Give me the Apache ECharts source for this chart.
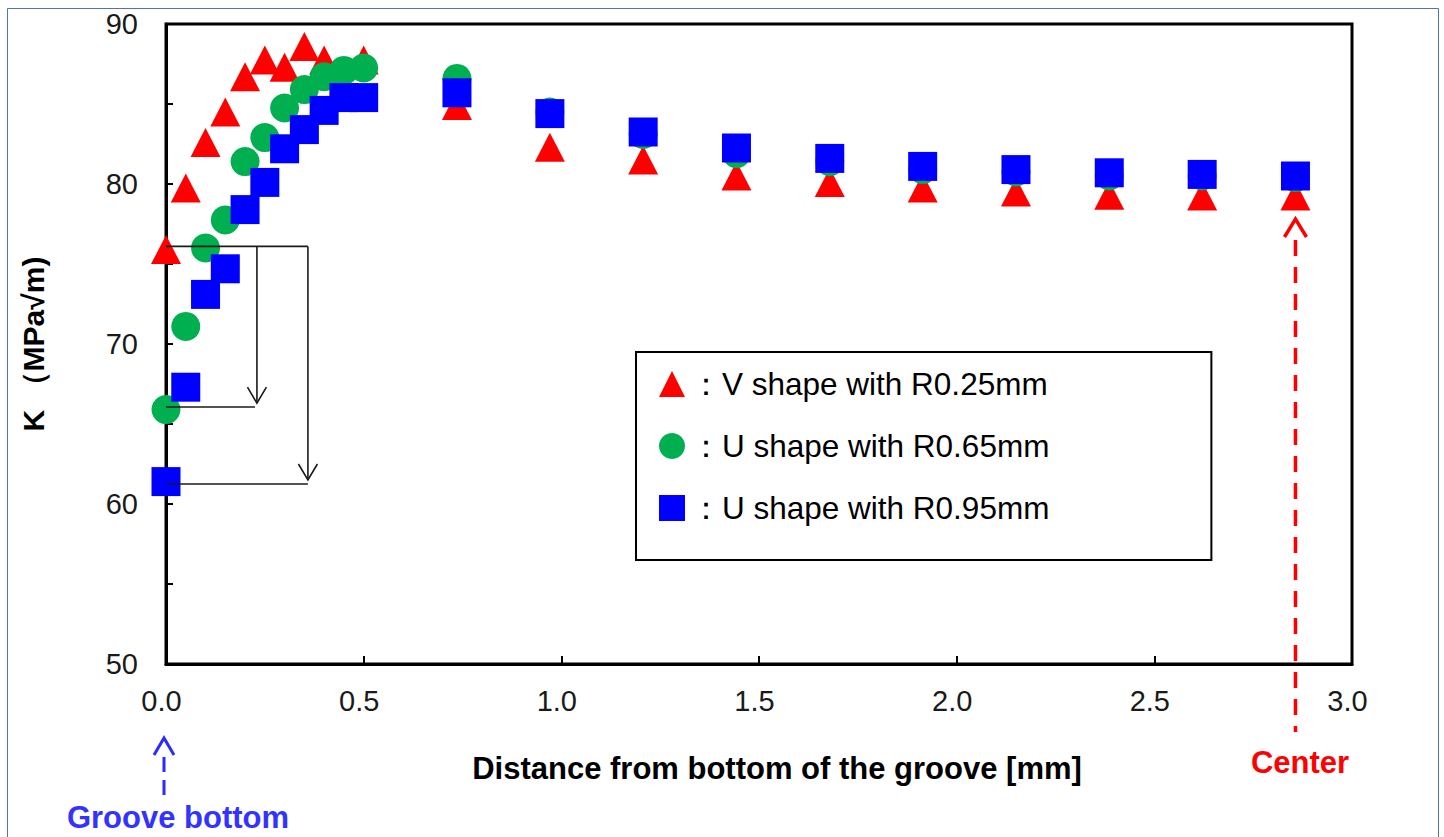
<!DOCTYPE html>
<html><head><meta charset="utf-8">
<script src="https://cdn.jsdelivr.net/npm/echarts@6/dist/echarts.min.js"></script>
<style>html,body{margin:0;padding:0;background:#fff}#c{width:1444px;height:837px}</style>
</head><body><div id="c"></div>
<script>
// ---- data ----
const seriesNames = ['：V shape with R0.25mm', '：U shape with R0.65mm', '：U shape with R0.95mm'];
const vR025X = [0, 0.05, 0.10, 0.15, 0.20, 0.25, 0.30, 0.35, 0.40, 0.50, 0.736, 0.971, 1.207, 1.443, 1.679, 1.914, 2.150, 2.386, 2.621, 2.857];
const vR025K = [75.9, 79.75, 82.6, 84.5, 86.7, 87.75, 87.3, 88.6, 87.75, 87.75, 84.9, 82.3, 81.5, 80.5, 80.1, 79.75, 79.5, 79.3, 79.25, 79.25];
const uR065X = [0, 0.05, 0.10, 0.15, 0.20, 0.25, 0.30, 0.35, 0.40, 0.45, 0.50, 0.736, 0.971, 1.207, 1.443, 1.679, 1.914, 2.150, 2.386, 2.621, 2.857];
const uR065K = [65.9, 71.1, 76.0, 77.75, 81.4, 82.9, 84.75, 85.9, 86.7, 87.1, 87.25, 86.6, 84.5, 83.1, 81.9, 81.4, 80.9, 80.75, 80.5, 80.5, 80.4];
const uR095X = [0, 0.05, 0.10, 0.15, 0.20, 0.25, 0.30, 0.35, 0.40, 0.45, 0.50, 0.736, 0.971, 1.207, 1.443, 1.679, 1.914, 2.150, 2.386, 2.621, 2.857];
const uR095K = [61.4, 67.3, 73.1, 74.7, 78.4, 80.1, 82.2, 83.4, 84.6, 85.4, 85.4, 85.7, 84.4, 83.25, 82.25, 81.6, 81.1, 80.9, 80.7, 80.6, 80.5];
const xTicks = [0, 0.5, 1.0, 1.5, 2.0, 2.5, 3.0];
const yTicks = [50, 60, 70, 80, 90];
const centerX = 2.857;
const grooveX = 0;
// annotation polylines (data coordinates)
const annoLines = [
  [[0, 76.1], [0.359, 76.1]],
  [[0.230, 76.1], [0.230, 66.3]],
  [[0.206, 67.3], [0.230, 66.3], [0.254, 67.3]],
  [[0, 66.06], [0.225, 66.06]],
  [[0.359, 76.1], [0.359, 61.5]],
  [[0.335, 62.5], [0.359, 61.5], [0.383, 62.5]],
  [[0, 61.25], [0.359, 61.25]]
];

const FONT = "Arial, 'Liberation Sans', sans-serif";
const zip = (xs, ys) => xs.map((x, i) => [x, ys[i]]);

const chart = echarts.init(document.getElementById('c'), null, {renderer: 'svg'});
chart.setOption({
  animation: false,
  backgroundColor: '#fff',
  grid: {left: 166, top: 24, right: 92, bottom: 173, show: true, borderColor: '#000', borderWidth: 3, containLabel: false, outerBoundsMode: 'none'},
  xAxis: {
    type: 'value', min: xTicks[0], max: xTicks[xTicks.length - 1], interval: 0.5,
    axisLine: {lineStyle: {color: '#000', width: 3}},
    axisTick: {inside: true, length: 8, lineStyle: {color: '#000', width: 2}},
    splitLine: {show: false},
    axisLabel: {formatter: v => v.toFixed(1), fontSize: 29, color: '#1a1a1a', fontFamily: FONT, margin: 22, padding: [0, 9, 0, 0]},
    name: 'Distance from bottom of the groove [mm]', nameLocation: 'middle', nameGap: 89,
    nameTextStyle: {fontSize: 31, fontWeight: 'bold', color: '#000', fontFamily: FONT, padding: [0, 0, 0, 36]}
  },
  yAxis: {
    type: 'value', min: yTicks[0], max: yTicks[yTicks.length - 1], interval: 5,
    axisLine: {lineStyle: {color: '#000', width: 3}},
    axisTick: {inside: true, length: 7, lineStyle: {color: '#000', width: 2}},
    splitLine: {show: false},
    axisLabel: {formatter: v => (yTicks.indexOf(v) >= 0 ? String(v) : ''), fontSize: 29, color: '#1a1a1a', fontFamily: FONT, margin: 28},
    name: 'K （MPa√m)', nameLocation: 'middle', nameGap: 118, nameRotate: 90,
    nameTextStyle: {fontSize: 30, fontWeight: 'bold', color: '#000', fontFamily: FONT}
  },
  legend: {
    left: 636, top: 352, orient: 'vertical', selectedMode: false,
    padding: [16, 162, 36, 23], itemGap: 30, itemWidth: 26, itemHeight: 26,
    textStyle: {fontSize: 31.5, color: '#000', fontFamily: FONT, lineHeight: 30},
    borderColor: '#000', borderWidth: 2, backgroundColor: '#fff',
    data: seriesNames
  },
  series: [
    {name: seriesNames[0], type: 'scatter', symbol: 'triangle', symbolSize: [30, 29], itemStyle: {color: '#ff0000', opacity: 1}, data: zip(vR025X, vR025K), z: 2},
    {name: seriesNames[1], type: 'scatter', symbol: 'circle', symbolSize: 29, itemStyle: {color: '#00b050', opacity: 1}, data: zip(uR065X, uR065K), z: 3},
    {name: seriesNames[2], type: 'scatter', symbol: 'rect', symbolSize: 29, itemStyle: {color: '#0000ff', opacity: 1}, data: zip(uR095X, uR095K), z: 4},
    {type: 'lines', coordinateSystem: 'cartesian2d', polyline: true, silent: true, z: 6,
     lineStyle: {color: '#1a1a1a', width: 1.6, opacity: 1},
     data: annoLines.map(c => ({coords: c}))}
  ]
});

const pxC = chart.convertToPixel({xAxisIndex: 0}, centerX);
const pxG = chart.convertToPixel({xAxisIndex: 0}, grooveX) - 2;
chart.setOption({
  graphic: [
    {type: 'rect', silent: true, shape: {x: 7.5, y: 8.5, width: 1431, height: 840}, style: {fill: 'none', stroke: '#4f74b5', lineWidth: 1}},
    {type: 'line', silent: true, z: 10, shape: {x1: pxC, y1: 240, x2: pxC, y2: 732}, style: {stroke: '#ff0000', lineWidth: 3.5, lineDash: [16, 11]}},
    {type: 'polyline', silent: true, z: 10, shape: {points: [[pxC - 11, 237], [pxC, 219], [pxC + 11, 237]]}, style: {stroke: '#ff0000', lineWidth: 3.5, fill: null}},
    {type: 'text', silent: true, style: {text: 'Center', x: 1300, y: 762, align: 'center', verticalAlign: 'middle', fontSize: 31, fontWeight: 'bold', fontFamily: FONT, fill: '#ff0000'}},
    {type: 'line', silent: true, z: 10, shape: {x1: pxG, y1: 757, x2: pxG, y2: 801}, style: {stroke: '#2b2bff', lineWidth: 3, lineDash: [15, 8]}},
    {type: 'polyline', silent: true, z: 10, shape: {points: [[pxG - 10, 755], [pxG, 738], [pxG + 10, 755]]}, style: {stroke: '#2b2bff', lineWidth: 3, fill: null}},
    {type: 'text', silent: true, style: {text: 'Groove bottom', x: 178, y: 817, align: 'center', verticalAlign: 'middle', fontSize: 31, fontWeight: 'bold', fontFamily: FONT, fill: '#3333ff'}}
  ]
});
</script>
</body></html>
